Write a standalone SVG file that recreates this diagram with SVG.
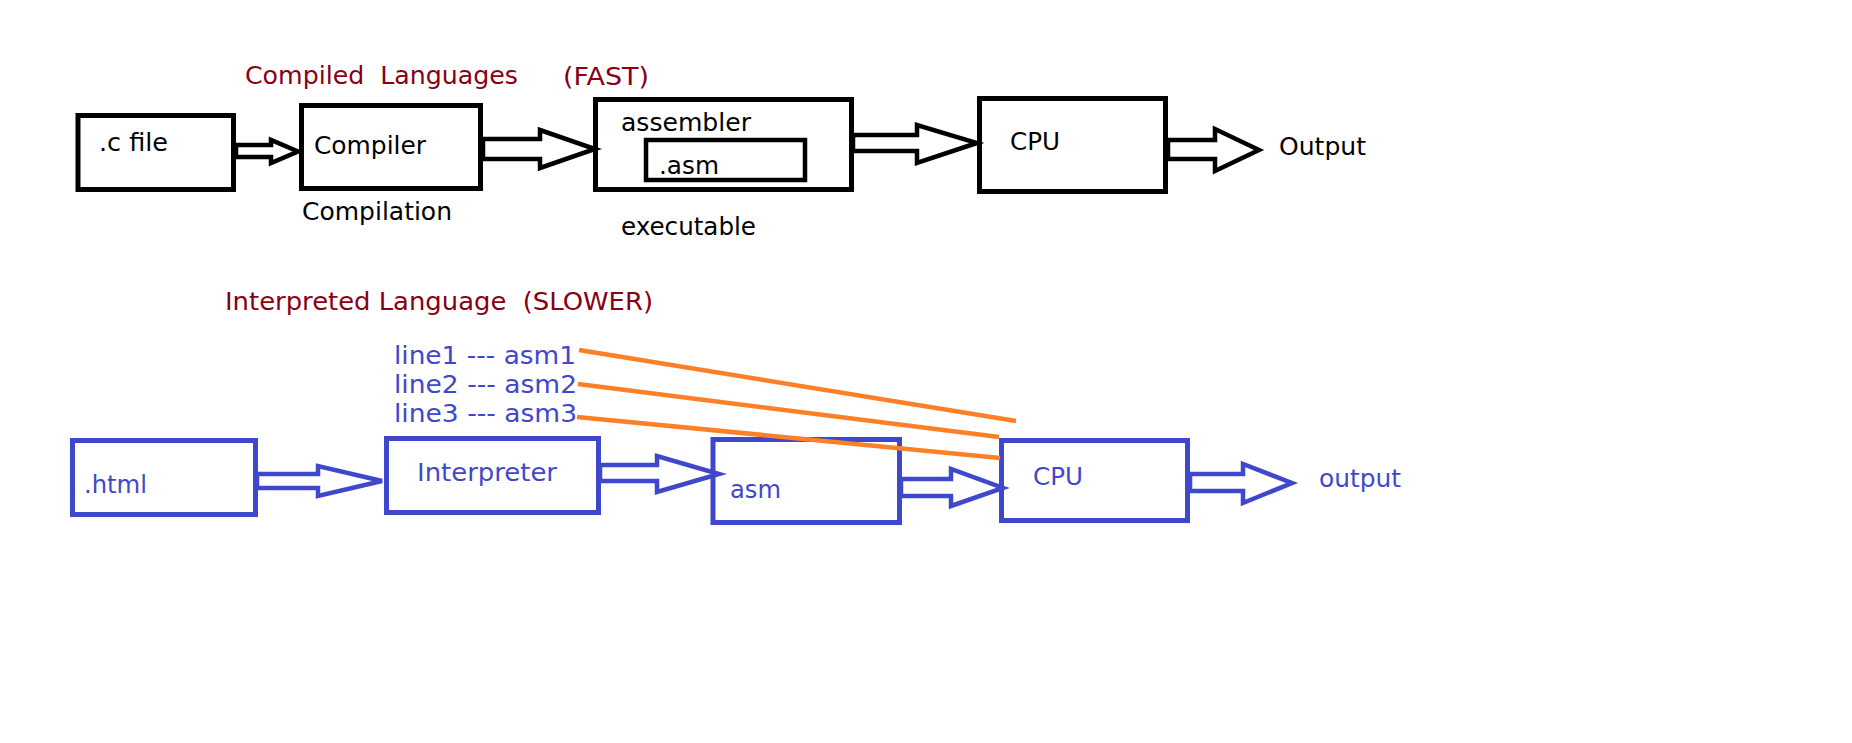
<svg xmlns="http://www.w3.org/2000/svg" width="1852" height="743" viewBox="0 0 1852 743">
<style>
.t{font-family:"DejaVu Sans","Liberation Sans",sans-serif;font-size:24px;white-space:pre}
.k{fill:#000}
.r{fill:#880015}
.b{fill:#3F48CC}
.bx{fill:none;stroke:#000;stroke-width:5}
.bb{fill:none;stroke:#3F48CC;stroke-width:5}
.ak{fill:#fff;stroke:#000;stroke-width:4.5;stroke-linejoin:miter}
.ab{fill:#fff;stroke:#3F48CC;stroke-width:4.5;stroke-linejoin:miter}
.or{stroke:#FF7F27;stroke-width:4.5;stroke-linecap:butt}
</style>
<rect width="1852" height="743" fill="#fff"/>
<g id="titles">
<text class="t r" x="245" y="84" textLength="273" lengthAdjust="spacingAndGlyphs" xml:space="preserve">Compiled  Languages</text>
<text class="t r" x="563" y="85" textLength="86" lengthAdjust="spacingAndGlyphs">(FAST)</text>
<text class="t r" x="225" y="310" textLength="428" lengthAdjust="spacingAndGlyphs" xml:space="preserve">Interpreted Language  (SLOWER)</text>
<text class="t k" x="302" y="220" textLength="150" lengthAdjust="spacingAndGlyphs">Compilation</text>
<text class="t k" x="621" y="235" textLength="135" lengthAdjust="spacingAndGlyphs">executable</text>
<text class="t k" x="1279" y="155" textLength="87" lengthAdjust="spacingAndGlyphs">Output</text>
<text class="t b" x="1319" y="487" textLength="82" lengthAdjust="spacingAndGlyphs">output</text>
<text class="t b" x="394" y="364" textLength="182" lengthAdjust="spacingAndGlyphs">line1 --- asm1</text>
<text class="t b" x="394" y="393" textLength="183" lengthAdjust="spacingAndGlyphs">line2 --- asm2</text>
<text class="t b" x="394" y="422" textLength="183" lengthAdjust="spacingAndGlyphs">line3 --- asm3</text>
</g>
<g id="node-cfile">
<rect class="bx" x="78" y="115.5" width="155.5" height="74"/>
<text class="t k" x="99" y="151" textLength="69" lengthAdjust="spacingAndGlyphs">.c file</text>
</g>
<g id="node-compiler">
<rect class="bx" x="301.5" y="105.5" width="179" height="83"/>
<text class="t k" x="314" y="154" textLength="112" lengthAdjust="spacingAndGlyphs">Compiler</text>
</g>
<g id="node-assembler">
<rect class="bx" x="595.5" y="99.5" width="256" height="90"/>
<text class="t k" x="621" y="131" textLength="130" lengthAdjust="spacingAndGlyphs">assembler</text>
<rect fill="none" stroke="#000" stroke-width="4.5" x="646" y="140" width="159" height="40"/>
<text class="t k" x="659" y="174" textLength="60" lengthAdjust="spacingAndGlyphs">.asm</text>
</g>
<g id="node-cpu-top">
<rect class="bx" x="979.5" y="98.5" width="186" height="93"/>
<text class="t k" x="1010" y="150" textLength="50" lengthAdjust="spacingAndGlyphs">CPU</text>
</g>
<g id="node-html">
<rect class="bb" x="72.5" y="440.5" width="183" height="74"/>
<text class="t b" x="84" y="493" textLength="63" lengthAdjust="spacingAndGlyphs">.html</text>
</g>
<g id="node-interpreter">
<rect class="bb" x="386.5" y="438.5" width="212" height="74"/>
<text class="t b" x="417" y="481" textLength="140" lengthAdjust="spacingAndGlyphs">Interpreter</text>
</g>
<g id="node-asm">
<rect class="bb" x="713" y="439.5" width="186.5" height="83"/>
<text class="t b" x="730" y="498" textLength="51" lengthAdjust="spacingAndGlyphs">asm</text>
</g>
<g id="node-cpu-bottom">
<rect class="bb" x="1001.5" y="440.5" width="186" height="80"/>
<text class="t b" x="1033" y="485" textLength="50" lengthAdjust="spacingAndGlyphs">CPU</text>
</g>
<g id="connectors">
<polygon class="ak" points="236,145 271,145 271,140 298,151.5 271,163 271,157 236,157"/>
<polygon class="ak" points="483,139 540,139 540,130 595,149 540,168 540,159 483,159"/>
<polygon class="ak" points="853,135 917,135 917,125 977,143 917,163 917,151 853,151"/>
<polygon class="ak" points="1168,140 1215,140 1215,129 1259,150 1215,171 1215,159 1168,159"/>
<polygon class="ab" points="257,474 318,474 318,466 382,481 318,496 318,488 257,488"/>
<polygon class="ab" points="600,465 657,465 657,456 719,474 657,492 657,481 600,481"/>
<polygon class="ab" points="901,479 951,479 951,469 1003,488 951,506 951,496 901,496"/>
<polygon class="ab" points="1190,474 1243,474 1243,464 1292,483 1243,503 1243,491 1190,491"/>
<line class="or" x1="579" y1="350" x2="1016" y2="421"/>
<line class="or" x1="578" y1="384" x2="999" y2="437"/>
<line class="or" x1="577" y1="417" x2="1000" y2="458"/>
</g>
</svg>
